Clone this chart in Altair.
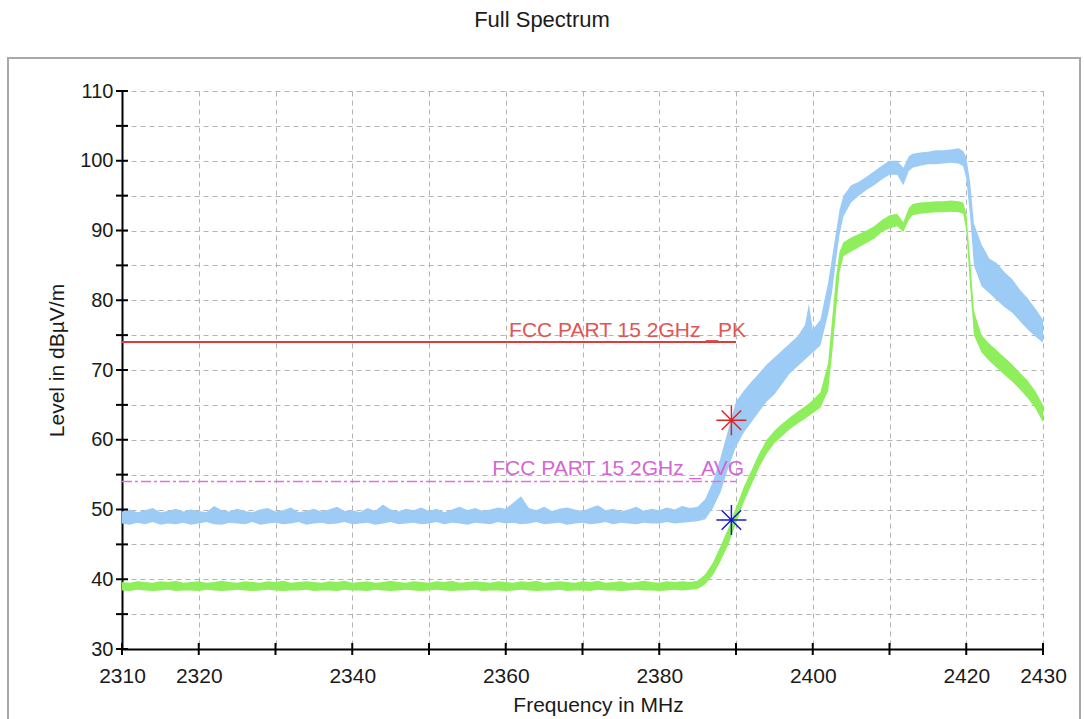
import altair as alt
import pandas as pd

TITLE = "Full Spectrum"
X_TITLE = "Frequency in MHz"
Y_TITLE = "Level in dBµV/m"

# sampling grid of the traces (MHz)
FREQ = list(range(2310, 2386)) + [
    2386, 2387, 2388, 2389, 2390, 2391, 2392, 2393, 2394, 2395, 2396, 2397, 2398, 2399, 2399.5, 2400, 2401,
    2402, 2402.5, 2403, 2403.5, 2404, 2405, 2406, 2407, 2408, 2409, 2410, 2411, 2411.8, 2412.5, 2413,
    2414, 2415, 2416, 2417, 2418, 2419, 2419.6, 2420, 2420.5, 2421, 2422, 2423, 2424, 2425, 2426,
    2427, 2428, 2429, 2430]

# peak trace envelope (dBuV/m)
PK_LO = [
    48.0, 47.8, 48.1, 47.9, 48.2, 47.8, 48.0, 47.9, 48.1, 47.8,
    48.0, 48.2, 47.9, 47.8, 48.1, 48.0, 47.9, 48.2, 47.8, 48.0,
    48.1, 47.9, 48.0, 48.2, 47.8, 48.0, 48.1, 47.9, 48.0, 48.2,
    47.9, 48.0, 48.1, 47.8, 48.0, 48.2, 47.9, 48.0, 48.1, 47.9,
    48.0, 48.2, 47.9, 48.1, 48.0, 47.8, 48.1, 48.0, 47.9, 48.2,
    48.0, 48.1, 47.9, 48.0, 48.2, 47.9, 48.0, 48.1, 47.8, 48.0,
    48.1, 47.9, 48.0, 48.2, 47.9, 48.1, 48.0, 47.9, 48.1, 48.0,
    48.0, 48.2, 48.0, 48.1, 48.2, 48.3,
    48.6, 50.2, 52.5, 56.0, 59.0, 61.0, 62.5, 64.0, 65.5, 66.5, 68.0, 69.5, 70.5, 71.5, 72.0, 72.5, 73.5,
    78.0, 81.0, 85.5, 89.5, 92.0, 94.0, 95.0, 95.8, 96.5, 97.3, 98.0, 98.0, 96.5, 98.5, 99.0,
    99.3, 99.5, 99.5, 99.6, 99.7, 99.6, 99.2, 97.5, 92.0, 85.0, 82.0, 81.0, 80.0, 79.0, 78.2,
    77.0, 75.8, 74.8, 73.9]
PK_HI = [
    49.7, 50.0, 49.6, 49.9, 50.2, 49.6, 49.8, 50.1, 49.7, 50.0,
    49.8, 49.6, 50.5, 49.9, 49.7, 50.1, 49.8, 49.6, 50.0, 50.2,
    49.7, 49.9, 50.3, 49.6, 49.8, 50.1, 49.7, 50.0, 50.4, 49.8,
    49.9, 49.6, 50.2, 49.8, 50.7, 50.0, 49.7, 50.1, 49.9, 50.3,
    49.8, 50.1, 49.6, 50.0, 50.4, 49.9, 50.2, 49.8, 50.0, 50.3,
    50.1, 51.0, 51.9, 50.2, 49.9, 50.4, 49.8, 50.1, 50.3, 50.0,
    49.8, 50.2, 50.6, 49.9, 50.1, 49.7, 50.0, 50.4, 49.8, 50.1,
    49.9, 50.3, 50.0, 50.5, 50.2, 50.4,
    51.5, 54.0, 57.5, 61.5, 65.5, 67.0, 68.3, 69.5, 70.8, 71.8, 72.8, 73.8, 74.8, 76.5, 79.5, 75.8, 77.2,
    82.5, 86.0, 89.5, 93.0, 95.0, 96.5, 97.0, 97.7, 98.5, 99.3, 100.0, 100.0, 99.0, 100.6, 101.0,
    101.2, 101.3, 101.5, 101.5, 101.6, 101.8, 101.4, 100.5, 97.0, 91.0, 88.0, 86.0, 85.3, 84.0, 83.0,
    81.5, 80.3, 78.8, 77.2]

# average trace envelope (dBuV/m)
AV_LO = [
    38.4, 38.3, 38.5, 38.4, 38.3, 38.4, 38.5, 38.3, 38.4, 38.4,
    38.3, 38.5, 38.4, 38.3, 38.4, 38.5, 38.4, 38.3, 38.4, 38.5,
    38.4, 38.3, 38.4, 38.4, 38.5, 38.3, 38.4, 38.4, 38.3, 38.5,
    38.4, 38.4, 38.3, 38.5, 38.4, 38.3, 38.4, 38.5, 38.4, 38.3,
    38.4, 38.5, 38.4, 38.3, 38.4, 38.4, 38.5, 38.3, 38.4, 38.4,
    38.3, 38.4, 38.5, 38.4, 38.3, 38.4, 38.4, 38.5, 38.3, 38.4,
    38.4, 38.3, 38.5, 38.4, 38.4, 38.3, 38.4, 38.5, 38.4, 38.4,
    38.3, 38.4, 38.5, 38.4, 38.5, 38.6,
    39.3, 40.6, 42.6, 45.0, 48.0, 51.0, 53.5, 56.0, 58.0, 59.5, 60.5, 61.5, 62.3, 63.0, 63.4, 63.8, 64.6,
    67.0, 72.0, 78.0, 84.0, 86.3, 87.0, 87.6, 88.2, 88.8, 89.8, 90.3, 90.6, 89.8, 91.5, 92.2,
    92.4, 92.5, 92.6, 92.6, 92.7, 92.6, 92.4, 90.0, 82.0, 75.0, 72.5, 71.3, 70.3, 69.3, 68.3,
    67.2, 66.0, 64.5, 62.5]
AV_HI = [
    39.6, 39.5, 39.7, 39.6, 39.5, 39.7, 39.6, 39.8, 39.5, 39.6,
    39.7, 39.5, 39.6, 39.8, 39.6, 39.5, 39.7, 39.6, 39.5, 39.7,
    39.6, 39.8, 39.5, 39.6, 39.7, 39.6, 39.5, 39.7, 39.6, 39.8,
    39.5, 39.6, 39.7, 39.5, 39.6, 39.8, 39.6, 39.5, 39.7, 39.6,
    39.5, 39.7, 39.6, 39.8, 39.5, 39.6, 39.7, 39.6, 39.5, 39.7,
    39.6, 39.5, 39.7, 39.6, 39.8, 39.5, 39.6, 39.7, 39.6, 39.5,
    39.7, 39.6, 39.8, 39.5, 39.6, 39.7, 39.5, 39.6, 39.8, 39.6,
    39.5, 39.7, 39.6, 39.7, 39.6, 39.8,
    40.7, 42.4, 44.8, 47.3, 50.3, 53.2, 55.6, 58.0, 60.0, 61.3, 62.3, 63.2, 64.0, 64.8, 65.2, 65.7, 66.8,
    71.0, 77.0, 83.0, 87.0, 88.3, 89.0, 89.5, 90.0, 90.6, 91.5, 92.2, 92.4, 91.2, 93.2, 93.8,
    94.0, 94.1, 94.2, 94.2, 94.3, 94.2, 94.0, 92.5, 86.0, 78.5, 75.0, 73.8, 72.8, 71.8, 70.8,
    69.6, 68.5, 67.0, 65.0]

LIMIT_NAMES = ["FCC PART 15 2GHz _PK", "FCC PART 15 2GHz _AVG"]
LIMIT_LEVELS = [74.0, 54.0]
LIMIT_START = [2310, 2310]
LIMIT_END = [2390, 2390]

MARK_FREQ = [2389.4, 2389.4]
MARK_LEVEL = [62.8, 48.5]
MARK_COLORS = ["#e02424", "#1c1cc8"]

X_TICKS = [2310, 2320, 2330, 2340, 2350, 2360, 2370, 2380, 2390, 2400, 2410, 2420, 2430]
X_LABELS = [2310, 2320, 2340, 2360, 2380, 2400, 2420, 2430]
Y_TICKS = [30, 35, 40, 45, 50, 55, 60, 65, 70, 75, 80, 85, 90, 95, 100, 105, 110]

W, H = 921, 558
FONT = "Liberation Sans"
FS = 21

traces = pd.DataFrame({"f": FREQ, "pk_lo": PK_LO, "pk_hi": PK_HI, "av_lo": AV_LO, "av_hi": AV_HI})
limits = pd.DataFrame({"name": LIMIT_NAMES, "level": LIMIT_LEVELS, "f1": LIMIT_START, "f2": LIMIT_END})
marks = pd.DataFrame({"f": MARK_FREQ, "v": MARK_LEVEL, "c": MARK_COLORS})

xs = alt.Scale(domain=[2310, 2430], nice=False, zero=False)
ys = alt.Scale(domain=[30, 110], nice=False, zero=False)

label_list = ",".join(str(v) for v in X_LABELS)
ax_x = alt.Axis(values=X_TICKS, format="d",
                labelExpr=f"indexof([{label_list}], datum.value) >= 0 ? datum.label : ''",
                grid=True, gridDash=[5, 4], gridColor="#b3b3b3", gridWidth=1,
                ticks=False, tickSize=0, domainColor="black", domainWidth=2,
                labelFont=FONT, labelFontSize=FS, labelColor="#1a1a1a", labelPadding=33,
                labelBaseline="alphabetic", labelFlush=False, labelOverlap=False,
                title=X_TITLE, titleFont=FONT, titleFontSize=FS, titleFontWeight="normal",
                titleColor="#1a1a1a", titleX=476, titleY=62, titleBaseline="alphabetic",
                titleAlign="center")
ax_y = alt.Axis(values=Y_TICKS, format="d",
                labelExpr="datum.value % 10 == 0 ? datum.label : ''",
                grid=True, gridDash=[5, 4], gridColor="#b3b3b3", gridWidth=1,
                ticks=False, tickSize=0, domainColor="black", domainWidth=2,
                labelFont=FONT, labelFontSize=20, labelColor="#1a1a1a", labelPadding=9,
                labelAlign="right", labelBaseline="middle", labelFlush=False, labelOverlap=False,
                title=Y_TITLE, titleFont=FONT, titleFontSize=FS, titleFontWeight="normal",
                titleColor="#1a1a1a", titleX=-65, titleY=269, titleAngle=270,
                titleAlign="center", titleBaseline="middle")

X = alt.X("f:Q", scale=xs, axis=ax_x)

frame = alt.Chart(pd.DataFrame({"k": [0]})).mark_rect(
    fillOpacity=0, stroke="#a8a8a8", strokeWidth=2
).encode(x=alt.value(-114), x2=alt.value(958), y=alt.value(-33), y2=alt.value(660))

title = alt.Chart(pd.DataFrame({"t": [TITLE]})).mark_text(
    font=FONT, fontSize=22, color="#1a1a1a", align="center", baseline="alphabetic"
).encode(x=alt.value(420), y=alt.value(-64), text="t:N")

pk_band = alt.Chart(traces).mark_area(color="#9ccbf6", opacity=1).encode(
    x=X, y=alt.Y("pk_lo:Q", scale=ys, axis=ax_y), y2="pk_hi:Q")
av_band = alt.Chart(traces).mark_area(color="#8eee5c", opacity=1).encode(
    x=X, y=alt.Y("av_lo:Q", scale=ys, axis=ax_y), y2="av_hi:Q")

Yl = alt.Y("level:Q", scale=ys, axis=ax_y)
Xl = alt.X("f1:Q", scale=xs, axis=ax_x)

pk_line = alt.Chart(limits).transform_filter(alt.datum.name == LIMIT_NAMES[0]).mark_rule(
    color="#e03a3a", strokeWidth=2).encode(x=Xl, x2="f2:Q", y=Yl)
av_line = alt.Chart(limits).transform_filter(alt.datum.name == LIMIT_NAMES[1]).mark_rule(
    color="#e070e0", strokeWidth=1.5, strokeDash=[10, 3, 3, 3]).encode(x=Xl, x2="f2:Q", y=Yl)

Xt = alt.X("f2:Q", scale=xs, axis=ax_x)
pk_text = alt.Chart(limits).transform_filter(alt.datum.name == LIMIT_NAMES[0]).mark_text(
    font=FONT, fontSize=FS, color="#e05555", align="right", baseline="alphabetic", dx=10, dy=-5
).encode(x=Xt, y=Yl, text="name:N")
av_text = alt.Chart(limits).transform_filter(alt.datum.name == LIMIT_NAMES[1]).mark_text(
    font=FONT, fontSize=FS, color="#d466d4", align="right", baseline="alphabetic", dx=8, dy=-7
).encode(x=Xt, y=Yl, text="name:N")

xticks = alt.Chart(pd.DataFrame({"f": X_TICKS})).mark_rule(color="black", strokeWidth=2).encode(
    x=X, y=alt.value(H - 6), y2=alt.value(H + 6))
yticks = alt.Chart(pd.DataFrame({"v": Y_TICKS})).mark_rule(color="black", strokeWidth=2).encode(
    y=alt.Y("v:Q", scale=ys, axis=ax_y), x=alt.value(-6), x2=alt.value(6))

STAR = "M0,-1L0,1M-1,0L1,0M-0.65,-0.65L0.65,0.65M-0.65,0.65L0.65,-0.65"
markers = alt.Chart(marks).mark_point(shape=STAR, filled=False, size=900, strokeWidth=1.5, opacity=1).encode(
    x=X, y=alt.Y("v:Q", scale=ys, axis=ax_y), stroke=alt.Stroke("c:N", scale=None))

chart = alt.layer(
    frame, pk_band, av_band, pk_line, av_line, pk_text, av_text, xticks, yticks, markers, title
).properties(
    width=W, height=H,
    autosize=alt.AutoSizeParams(type="none"),
    padding={"left": 122, "top": 91, "right": 41, "bottom": 70},
    background="white",
).configure_view(strokeWidth=0)

chart.save("out.html", embed_options={"renderer": "svg", "actions": False})
